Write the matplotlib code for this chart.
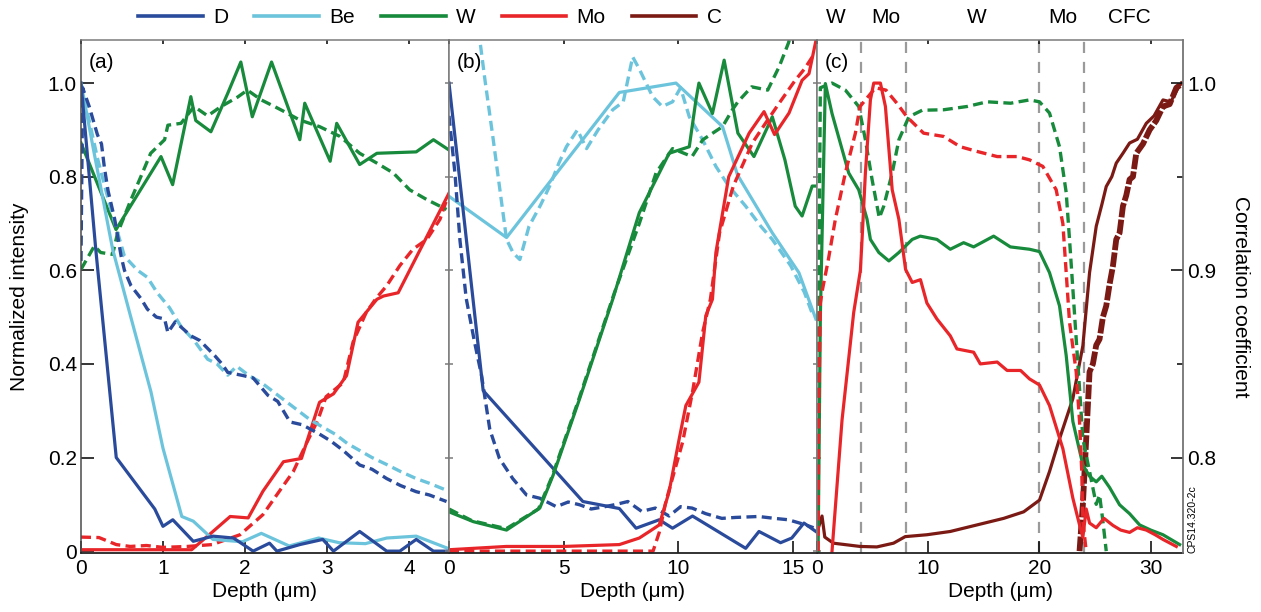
import matplotlib
matplotlib.use('Agg')
import matplotlib.pyplot as plt
import matplotlib.transforms as mtransforms
from matplotlib.lines import Line2D

plt.rcParams['font.family'] = ['Liberation Sans', 'DejaVu Sans']
plt.rcParams['font.size'] = 15

BLUE = '#2a4b9b'
LBLUE = '#6cc4dc'
GREEN = '#188a3c'
RED = '#e8262a'
DRED = '#7b1a14'
GRAY = '#7a7a7a'

# ---- panel (a) ----
a_D_sol_x = [0, 0.18, 0.43, 0.90, 1.0, 1.12, 1.37, 1.61, 1.86, 2.1, 2.30, 2.39, 2.67, 2.95, 3.08, 3.40, 3.73, 3.89, 4.09, 4.30, 4.49]
a_D_sol_y = [1.0, 0.645, 0.20, 0.09, 0.053, 0.067, 0.021, 0.032, 0.028, 0.0, 0.017, 0.0, 0.014, 0.025, 0.0, 0.042, 0.0, 0.0, 0.025, 0.0, 0.0]
a_D_dash_x = [0, 0.02, 0.1, 0.2, 0.25, 0.285, 0.33, 0.41, 0.49, 0.53, 0.61, 0.73, 0.81, 0.92, 1.02, 1.06, 1.15, 1.34, 1.45, 1.63, 1.72, 1.79, 1.98, 2.1, 2.28, 2.4, 2.55, 2.7, 2.91, 3.05, 3.2, 3.40, 3.55, 3.73, 3.9, 4.09, 4.25, 4.46]
a_D_dash_y = [0.62, 0.99, 0.95, 0.89, 0.87, 0.82, 0.77, 0.71, 0.63, 0.60, 0.567, 0.54, 0.517, 0.50, 0.496, 0.467, 0.49, 0.46, 0.45, 0.418, 0.40, 0.382, 0.375, 0.37, 0.333, 0.32, 0.276, 0.27, 0.25, 0.235, 0.215, 0.184, 0.175, 0.155, 0.14, 0.127, 0.12, 0.106]
a_Be_sol_x = [0, 0.15, 0.386, 0.6, 0.854, 1.0, 1.23, 1.37, 1.61, 1.97, 2.20, 2.54, 2.90, 3.15, 3.47, 3.73, 4.09, 4.46]
a_Be_sol_y = [1.0, 0.86, 0.645, 0.505, 0.34, 0.22, 0.074, 0.064, 0.025, 0.02, 0.038, 0.011, 0.028, 0.018, 0.016, 0.028, 0.032, 0.007]
a_Be_dash_x = [0, 0.1, 0.2, 0.35, 0.53, 0.69, 0.81, 0.93, 1.08, 1.22, 1.38, 1.545, 1.66, 1.79, 1.9, 2.05, 2.2, 2.35, 2.5, 2.65, 2.8, 2.95, 3.1, 3.25, 3.4, 3.55, 3.73, 3.9, 4.09, 4.25, 4.46]
a_Be_dash_y = [1.0, 0.92, 0.84, 0.74, 0.63, 0.60, 0.585, 0.552, 0.52, 0.48, 0.45, 0.41, 0.40, 0.376, 0.395, 0.375, 0.36, 0.34, 0.32, 0.30, 0.28, 0.265, 0.25, 0.23, 0.215, 0.20, 0.185, 0.17, 0.155, 0.145, 0.13]
a_W_sol_x = [0, 0.427, 0.976, 1.118, 1.34, 1.40, 1.585, 1.79, 1.95, 2.09, 2.325, 2.67, 2.73, 3.04, 3.12, 3.40, 3.61, 4.09, 4.30, 4.49]
a_W_sol_y = [0.872, 0.687, 0.843, 0.783, 0.971, 0.92, 0.896, 0.978, 1.045, 0.928, 1.045, 0.879, 0.957, 0.833, 0.914, 0.826, 0.85, 0.853, 0.879, 0.857]
a_W_dash_x = [0, 0.163, 0.24, 0.386, 0.447, 0.61, 0.73, 0.85, 1.02, 1.06, 1.22, 1.38, 1.545, 1.71, 1.91, 2.03, 2.2, 2.36, 2.47, 2.67, 2.91, 3.16, 3.40, 3.61, 3.81, 4.01, 4.22, 4.46]
a_W_dash_y = [0.602, 0.652, 0.638, 0.634, 0.68, 0.751, 0.80, 0.85, 0.879, 0.91, 0.914, 0.95, 0.93, 0.95, 0.97, 0.985, 0.964, 0.95, 0.94, 0.921, 0.907, 0.886, 0.85, 0.829, 0.808, 0.772, 0.751, 0.73]
a_Mo_sol_x = [0, 1.35, 1.61, 1.82, 2.04, 2.22, 2.47, 2.69, 2.73, 2.91, 3.08, 3.24, 3.38, 3.61, 3.69, 3.87, 4.49]
a_Mo_sol_y = [0.003, 0.003, 0.042, 0.074, 0.071, 0.128, 0.191, 0.198, 0.22, 0.318, 0.336, 0.375, 0.489, 0.538, 0.545, 0.552, 0.765]
a_Mo_dash_x = [0, 0.22, 0.43, 0.6, 0.8, 1.0, 1.3, 1.6, 1.94, 2.22, 2.42, 2.59, 2.75, 2.89, 2.99, 3.2, 3.32, 3.48, 3.6, 3.73, 3.89, 4.05, 4.22, 4.38, 4.46]
a_Mo_dash_y = [0.03, 0.029, 0.014, 0.01, 0.012, 0.008, 0.01, 0.014, 0.035, 0.078, 0.128, 0.17, 0.23, 0.28, 0.33, 0.36, 0.447, 0.51, 0.54, 0.567, 0.61, 0.645, 0.666, 0.709, 0.75]

# ---- panel (b) ----
b_D_sol_x = [0, 1.49, 5.84, 7.43, 8.16, 9.17, 9.75, 10.62, 12.94, 13.52, 14.46, 14.95, 15.48, 16.0]
b_D_sol_y = [1.0, 0.343, 0.106, 0.091, 0.049, 0.067, 0.049, 0.075, 0.006, 0.042, 0.018, 0.028, 0.06, 0.042]
b_D_dash_x = [0, 0.26, 0.48, 0.75, 1.1, 1.42, 1.78, 2.2, 2.78, 3.38, 3.96, 4.68, 5.2, 5.7, 6.2, 6.8, 7.3, 7.8, 8.4, 9.0, 9.6, 10.1, 10.6, 11.2, 11.9, 12.5, 13.5, 14.2, 14.8, 15.5, 15.9]
b_D_dash_y = [0.93, 0.807, 0.663, 0.54, 0.45, 0.375, 0.26, 0.198, 0.155, 0.12, 0.113, 0.095, 0.105, 0.099, 0.09, 0.095, 0.1, 0.106, 0.085, 0.092, 0.075, 0.095, 0.092, 0.08, 0.07, 0.072, 0.074, 0.07, 0.067, 0.057, 0.05]
b_Be_sol_x = [0, 2.51, 7.43, 9.9, 11.93, 12.58, 14.1, 15.26, 16.0]
b_Be_sol_y = [0.758, 0.67, 0.98, 1.0, 0.907, 0.804, 0.68, 0.595, 0.496]
b_Be_dash_x = [1.2, 1.35, 1.57, 1.93, 2.22, 2.51, 2.8, 3.09, 3.49, 4.0, 4.39, 4.8, 5.12, 5.6, 6.0, 6.5, 7.14, 7.6, 8.01, 8.3, 8.88, 9.3, 9.75, 10.1, 10.48, 11.06, 11.64, 12.2, 12.94, 13.6, 14.1, 14.9, 15.5, 15.9]
b_Be_dash_y = [1.2, 1.09, 1.006, 0.879, 0.772, 0.666, 0.637, 0.623, 0.694, 0.74, 0.78, 0.83, 0.864, 0.90, 0.86, 0.90, 0.943, 0.96, 1.056, 1.03, 0.971, 0.95, 0.96, 0.99, 0.928, 0.879, 0.822, 0.78, 0.737, 0.694, 0.666, 0.61, 0.553, 0.50]
b_W_sol_x = [0, 1.06, 2.51, 3.96, 4.54, 5.7, 7.14, 8.30, 9.6, 10.48, 10.77, 10.9, 11.49, 12.0, 12.6, 13.3, 14.1, 14.65, 15.1, 15.4, 15.84, 16.0]
b_W_sol_y = [0.084, 0.063, 0.045, 0.092, 0.162, 0.326, 0.538, 0.723, 0.85, 0.864, 0.964, 1.0, 0.935, 1.049, 0.893, 0.843, 0.928, 0.836, 0.737, 0.716, 0.78, 0.78]
b_W_dash_x = [0, 1.0, 2.5, 3.9, 4.5, 5.7, 7.2, 8.3, 9.03, 9.75, 10.6, 11.07, 11.93, 12.36, 12.6, 13.2, 13.9, 14.4, 14.8, 15.2]
b_W_dash_y = [0.09, 0.065, 0.048, 0.09, 0.16, 0.33, 0.55, 0.70, 0.808, 0.86, 0.843, 0.879, 0.907, 0.943, 0.96, 0.992, 0.985, 1.035, 1.085, 1.15]
b_Mo_sol_x = [0, 2.5, 5.0, 7.43, 8.3, 8.74, 9.17, 9.6, 10.04, 10.33, 10.9, 11.2, 11.49, 11.64, 12.2, 13.09, 13.74, 14.2, 14.83, 15.4, 15.7, 16.0]
b_Mo_sol_y = [0.003, 0.01, 0.01, 0.014, 0.028, 0.042, 0.056, 0.127, 0.24, 0.311, 0.361, 0.503, 0.538, 0.638, 0.80, 0.893, 0.939, 0.89, 0.936, 1.006, 1.02, 1.09]
b_Mo_dash_x = [0, 3, 6, 8.9, 9.17, 9.46, 10.19, 10.62, 11.06, 11.4, 11.8, 12.4, 13.23, 13.8, 14.4, 15.1, 15.5, 15.9]
b_Mo_dash_y = [0.0, 0.0, 0.0, 0.0, 0.04, 0.106, 0.233, 0.34, 0.467, 0.538, 0.68, 0.78, 0.872, 0.914, 0.957, 1.006, 1.03, 1.06]

# ---- panel (c) ----
c_W_sol_x = [0.1, 0.3, 0.75, 1.35, 2.85, 3.75, 4.5, 4.8, 5.56, 6.46, 7.36, 8.56, 9.28, 10.78, 11.98, 13.18, 14.08, 15.88, 17.38, 19.1, 20.0, 20.9, 21.8, 22.4, 23.0, 23.9, 24.5, 25.1, 25.6, 26.3, 27.2, 28.1, 29.0, 30.0, 31.1, 32.6]
c_W_sol_y = [0.0, 0.5, 0.999, 0.935, 0.808, 0.772, 0.709, 0.666, 0.638, 0.62, 0.638, 0.666, 0.673, 0.666, 0.645, 0.659, 0.65, 0.673, 0.65, 0.645, 0.64, 0.595, 0.524, 0.418, 0.277, 0.184, 0.16, 0.148, 0.16, 0.136, 0.099, 0.08, 0.056, 0.045, 0.035, 0.014]
c_W_dash_x = [0.0, 0.3, 1.35, 2.55, 3.75, 4.35, 4.95, 5.6, 6.0, 6.76, 7.36, 8.26, 9.46, 11.38, 13.5, 15.29, 17.4, 19.1, 20.0, 20.9, 21.8, 22.4, 22.7, 23.0, 23.3, 23.6, 23.9, 24.5, 25.1, 25.4, 25.7, 26.0]
c_W_dash_y = [0.0, 0.99, 1.0, 0.985, 0.95, 0.879, 0.794, 0.712, 0.737, 0.808, 0.879, 0.928, 0.942, 0.943, 0.95, 0.96, 0.957, 0.964, 0.96, 0.936, 0.864, 0.766, 0.666, 0.56, 0.453, 0.347, 0.24, 0.17, 0.10, 0.12, 0.064, 0.0]
c_Mo_sol_x = [1.35, 2.25, 3.3, 3.9, 4.05, 4.35, 4.8, 5.1, 5.7, 6.15, 6.76, 7.36, 7.96, 8.56, 9.3, 9.88, 10.78, 11.98, 12.58, 14.08, 14.68, 16.2, 17.09, 18.3, 19.1, 20.0, 20.9, 22.1, 23.0, 23.6, 23.9, 24.2, 24.5, 25.1, 25.8, 26.6, 27.3, 28.1, 28.8, 29.6, 30.4, 31.1, 32.3]
c_Mo_sol_y = [0.0, 0.28, 0.51, 0.60, 0.666, 0.808, 0.964, 1.0, 1.0, 0.95, 0.772, 0.709, 0.602, 0.574, 0.58, 0.53, 0.496, 0.46, 0.432, 0.425, 0.4, 0.404, 0.386, 0.386, 0.368, 0.355, 0.311, 0.219, 0.113, 0.056, 0.03, 0.09, 0.06, 0.05, 0.07, 0.055, 0.045, 0.04, 0.05, 0.045, 0.035, 0.025, 0.01]
c_Mo_dash_x = [0.1, 0.15, 0.3, 0.5, 1.0, 1.65, 2.55, 3.45, 3.87, 4.35, 5.25, 6.2, 7.18, 8.08, 9.58, 11.38, 12.88, 14.38, 16.2, 18.0, 19.1, 20.3, 21.5, 22.1, 22.4, 22.7, 23.3, 23.6, 23.8, 23.9, 24.2]
c_Mo_dash_y = [0.0, 0.3, 0.53, 0.56, 0.62, 0.709, 0.808, 0.893, 0.95, 0.964, 0.99, 0.985, 0.957, 0.928, 0.893, 0.886, 0.864, 0.854, 0.843, 0.843, 0.836, 0.822, 0.772, 0.70, 0.595, 0.489, 0.383, 0.277, 0.17, 0.064, 0.0]
c_C_sol_x = [0, 0.45, 0.7, 1.47, 3.87, 5.38, 6.88, 7.93, 9.88, 11.98, 14.38, 16.78, 18.58, 20.0, 20.9, 21.8, 23.0, 23.9, 24.5, 25.1, 25.6, 26.0, 26.5, 26.9, 27.5, 28.1, 28.8, 29.6, 30.3, 31.1, 31.8, 32.6, 32.9]
c_C_sol_y = [0.04, 0.075, 0.03, 0.017, 0.01, 0.009, 0.017, 0.031, 0.035, 0.042, 0.056, 0.07, 0.084, 0.109, 0.17, 0.24, 0.326, 0.439, 0.595, 0.694, 0.74, 0.779, 0.80, 0.829, 0.85, 0.872, 0.88, 0.914, 0.93, 0.964, 0.96, 0.996, 1.0]
c_C_dash_x = [23.6, 23.9, 24.2, 24.5, 24.8, 25.1, 25.4, 25.7, 26.0, 26.3, 26.6, 26.9, 27.2, 27.5, 27.8, 28.1, 28.4, 28.7, 29.0, 29.3, 29.9, 30.5, 31.1, 31.7, 32.3, 32.9]
c_C_dash_y = [0.0, 0.1, 0.24, 0.383, 0.40, 0.44, 0.453, 0.50, 0.524, 0.57, 0.609, 0.666, 0.68, 0.737, 0.76, 0.794, 0.80, 0.85, 0.86, 0.87, 0.9, 0.92, 0.95, 0.955, 0.99, 1.0]

c_boundaries = [4, 8, 20, 24]
c_layer_x = [1.7, 6.2, 14.4, 22.1, 28.1]
c_layer_lbl = ['W', 'Mo', 'W', 'Mo', 'CFC']

SOLID = dict(lw=2.3, solid_joinstyle='round')
DASH = dict(lw=2.4, ls=(0, (3, 1.6)))

fig = plt.figure(figsize=(12.61, 6.12), dpi=100)
bot, hgt = 0.0964, 0.8382
ax_a = fig.add_axes([81 / 1261, bot, 368 / 1261, hgt])
ax_b = fig.add_axes([449 / 1261, bot, 368 / 1261, hgt])
ax_c = fig.add_axes([817 / 1261, bot, 366 / 1261, hgt])

# (a)
ax_a.plot(a_Mo_dash_x, a_Mo_dash_y, color=RED, **DASH)
ax_a.plot(a_Mo_sol_x, a_Mo_sol_y, color=RED, **SOLID)
ax_a.plot(a_W_dash_x, a_W_dash_y, color=GREEN, **DASH)
ax_a.plot(a_W_sol_x, a_W_sol_y, color=GREEN, **SOLID)
ax_a.plot(a_Be_dash_x, a_Be_dash_y, color=LBLUE, **DASH)
ax_a.plot(a_Be_sol_x, a_Be_sol_y, color=LBLUE, **SOLID)
ax_a.plot(a_D_dash_x, a_D_dash_y, color=BLUE, **DASH)
ax_a.plot(a_D_sol_x, a_D_sol_y, color=BLUE, **SOLID)

# (b)
ax_b.plot(b_Be_dash_x, b_Be_dash_y, color=LBLUE, **DASH)
ax_b.plot(b_Be_sol_x, b_Be_sol_y, color=LBLUE, **SOLID)
ax_b.plot(b_D_dash_x, b_D_dash_y, color=BLUE, **DASH)
ax_b.plot(b_D_sol_x, b_D_sol_y, color=BLUE, **SOLID)
ax_b.plot(b_W_dash_x, b_W_dash_y, color=GREEN, **DASH)
ax_b.plot(b_W_sol_x, b_W_sol_y, color=GREEN, **SOLID)
ax_b.plot(b_Mo_dash_x, b_Mo_dash_y, color=RED, **DASH)
ax_b.plot(b_Mo_sol_x, b_Mo_sol_y, color=RED, **SOLID)

# (c)
for xb in c_boundaries:
    ax_c.axvline(xb, color='#9a9a9a', lw=1.6, ls=(0, (5, 4)), zorder=1)
ax_c.plot(c_C_dash_x, c_C_dash_y, color=DRED, lw=4.2, ls=(0, (2.5, 0.4)))
ax_c.plot(c_C_sol_x, c_C_sol_y, color=DRED, **SOLID)
ax_c.plot(c_W_dash_x, c_W_dash_y, color=GREEN, **DASH)
ax_c.plot(c_W_sol_x, c_W_sol_y, color=GREEN, **SOLID)
ax_c.plot(c_Mo_dash_x, c_Mo_dash_y, color=RED, **DASH)
ax_c.plot(c_Mo_sol_x, c_Mo_sol_y, color=RED, **SOLID)

yt = [0, 0.2, 0.4, 0.6, 0.8, 1.0]
xlims = [(0, 4.49), (0, 16.05), (0, 32.9)]
xticks = [[0, 1, 2, 3, 4], [0, 5, 10, 15], [0, 10, 20, 30]]
for ax, xl, xt, lab in zip([ax_a, ax_b, ax_c], xlims, xticks, ['(a)', '(b)', '(c)']):
    ax.set_xlim(*xl)
    ax.set_ylim(-0.004, 1.092)
    ax.set_xticks(xt)
    ax.set_xticklabels([str(v) for v in xt])
    ax.set_yticks(yt)
    ax.tick_params(axis='x', which='both', direction='in', length=9, width=1.1,
                   color='black', pad=4, top=True)
    for t in ax.xaxis.get_major_ticks():
        t.tick2line.set_color(GRAY)
        t.tick2line.set_markersize(3)
    for sp in ['top', 'left', 'right']:
        ax.spines[sp].set_color(GRAY)
        ax.spines[sp].set_linewidth(1.1)
    ax.spines['bottom'].set_color('#222222')
    ax.spines['bottom'].set_linewidth(1.3)
    ax.set_xlabel('Depth (\u03bcm)', labelpad=3)
    ax.text(0.022, 0.957, lab, transform=ax.transAxes, ha='left', va='center')

ax_a.spines['left'].set_color('#4a4a4a')
ax_a.tick_params(axis='y', direction='in', length=9, width=1.1, color='black', pad=3, right=False)
ax_a.set_yticklabels(['0', '0.2', '0.4', '0.6', '0.8', '1.0'])
ax_a.set_ylabel('Normalized intensity', va='center')
ax_a.yaxis.set_label_coords(-0.166, 0.5)

for ax in [ax_b, ax_c]:
    ax.tick_params(axis='y', direction='inout', length=6, width=1.1, color=GRAY,
                   labelleft=False, right=False)

ax_r = ax_c.twinx()
ax_r.set_ylim(0.75 - 0.25 * 0.004, 0.75 + 0.25 * 1.092)
ax_r.set_yticks([0.8, 0.9, 1.0])
ax_r.set_yticklabels(['0.8', '0.9', '1.0'])
ax_r.set_yticks([0.85, 0.95], minor=True)
ax_r.tick_params(axis='y', which='major', direction='in', length=9, width=1.1, color='black', pad=3)
ax_r.tick_params(axis='y', which='minor', direction='in', length=4, width=1.1, color='black')
for sp in ['top', 'left', 'bottom']:
    ax_r.spines[sp].set_visible(False)
ax_r.spines['right'].set_color(GRAY)
ax_r.spines['right'].set_linewidth(1.1)
ax_r.set_ylabel('Correlation coefficient', rotation=270, va='center')
ax_r.yaxis.set_label_coords(1.156, 0.5)

trans = mtransforms.blended_transform_factory(ax_c.transData, ax_c.transAxes)
for xv, lbl in zip(c_layer_x, c_layer_lbl):
    ax_c.text(xv, 1.043, lbl, transform=trans, ha='center', va='center', clip_on=False)

handles = [Line2D([], [], color=c, lw=2.6) for c in [BLUE, LBLUE, GREEN, RED, DRED]]
fig.legend(handles, ['D', 'Be', 'W', 'Mo', 'C'], loc='center', bbox_to_anchor=(0.341, 0.971),
           ncol=5, frameon=False, handlelength=3.1, handletextpad=0.5, columnspacing=1.25,
           borderaxespad=0, borderpad=0)

fig.text(1192 / 1261, bot, 'CPS14.320-2c', rotation=90, ha='center', va='bottom', fontsize=7.5)

fig.savefig('out.png', dpi=100)
